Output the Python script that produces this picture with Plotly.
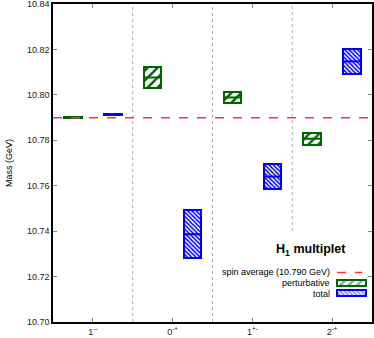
import plotly.graph_objects as go

# ---- data ----
states = ["1<sup>--</sup>", "0<sup>-+</sup>", "1<sup>+-</sup>", "2<sup>-+</sup>"]
spin_average = 10.790
pert_mass = [10.7900, 10.8077, 10.7989, 10.7807]
pert_err = [0.0002, 0.0048, 0.0025, 0.0027]
total_mass = [10.7915, 10.7386, 10.7640, 10.8148]
total_err = [0.0002, 0.0105, 0.0054, 0.0055]
y_ticks = [10.70, 10.72, 10.74, 10.76, 10.78, 10.80, 10.82, 10.84]

GREEN = "#006400"
BLUE = "#0000ff"
FONT = "Liberation Sans, Arial, sans-serif"

idx = list(range(len(states)))
offset = 0.25
bw = 0.22

fig = go.Figure()


def add_series(mass, err, shift, color, shape, size, solidity):
    xs = [i + shift for i in idx]
    fig.add_trace(go.Bar(
        x=xs, y=[2 * e for e in err], base=[m - e for m, e in zip(mass, err)],
        width=bw, showlegend=False, hoverinfo="skip",
        marker=dict(color="white", line=dict(color=color, width=2),
                    pattern=dict(shape=shape, fgcolor=color, bgcolor="white",
                                 size=size, solidity=solidity, fillmode="replace")),
    ))
    lx, ly = [], []
    for x, m in zip(xs, mass):
        lx += [x - bw / 2, x + bw / 2, None]
        ly += [m, m, None]
    fig.add_trace(go.Scatter(x=lx, y=ly, mode="lines", showlegend=False,
                             hoverinfo="skip", line=dict(color=color, width=2)))


add_series(pert_mass, pert_err, -offset, GREEN, "/", 7, 0.35)
add_series(total_mass, total_err, offset, BLUE, "\\", 3, 0.5)

# legend swatches on an auxiliary (hidden) axis pair
fig.add_trace(go.Bar(x=[0.9355], y=[0.019], base=[0.113], width=[0.091],
                     xaxis="x2", yaxis="y2", showlegend=False, hoverinfo="skip",
                     marker=dict(color="white", line=dict(color=GREEN, width=2),
                                 pattern=dict(shape="/", fgcolor=GREEN, bgcolor="white",
                                              size=6, solidity=0.4))))
fig.add_trace(go.Bar(x=[0.9355], y=[0.019], base=[0.081], width=[0.091],
                     xaxis="x2", yaxis="y2", showlegend=False, hoverinfo="skip",
                     marker=dict(color="white", line=dict(color=BLUE, width=2),
                                 pattern=dict(shape="\\", fgcolor=BLUE, bgcolor="white",
                                              size=3, solidity=0.5))))

shapes = []
for sep in [0.5, 1.5]:
    shapes.append(dict(type="line", xref="x", yref="paper", x0=sep, x1=sep, y0=0, y1=1,
                       line=dict(color="#aaaaaa", width=1, dash="dot")))
shapes.append(dict(type="line", xref="x", yref="y", x0=2.5, x1=2.5, y0=10.74, y1=10.84,
                   line=dict(color="#aaaaaa", width=1, dash="dot")))
shapes.append(dict(type="line", xref="paper", yref="y", x0=0, x1=1,
                   y0=spin_average, y1=spin_average,
                   line=dict(color="#ff3333", width=1.5, dash="dash")))
shapes.append(dict(type="line", xref="paper", yref="paper", x0=0.890, x1=0.969,
                   y0=0.1557, y1=0.1557, line=dict(color="#ff3333", width=1.5, dash="dash")))

annotations = [
    dict(text="<b>H<sub>1</sub> multiplet</b>", xref="paper", yref="paper",
         x=0.81, y=0.225, showarrow=False, xanchor="center", yanchor="middle",
         font=dict(size=12.5, color="black", family=FONT)),
    dict(text="spin average (%.3f GeV)" % spin_average, xref="paper", yref="paper",
         x=0.874, y=0.1557, showarrow=False, xanchor="right", yanchor="middle",
         font=dict(size=9, color="black", family=FONT)),
    dict(text="perturbative", xref="paper", yref="paper",
         x=0.874, y=0.1226, showarrow=False, xanchor="right", yanchor="middle",
         font=dict(size=9, color="black", family=FONT)),
    dict(text="total", xref="paper", yref="paper",
         x=0.874, y=0.0896, showarrow=False, xanchor="right", yanchor="middle",
         font=dict(size=9, color="black", family=FONT)),
]

fig.update_layout(
    width=374, height=338,
    margin=dict(l=53, r=2, t=4, b=16),
    paper_bgcolor="white", plot_bgcolor="white",
    barmode="overlay", bargap=0,
    shapes=shapes, annotations=annotations,
    font=dict(family=FONT, size=9, color="black"),
    xaxis=dict(range=[-0.5, 3.5], tickmode="array", tickvals=idx, ticktext=states,
               ticks="inside", ticklen=4, tickcolor="#888888", tickwidth=1,
               showline=True, linecolor="black", linewidth=1.5, mirror="ticks",
               showgrid=False, zeroline=False, tickfont=dict(size=9, family=FONT, color="#222222")),
    yaxis=dict(range=[10.6999, 10.8401], tickmode="array", tickvals=y_ticks,
               ticktext=["%.2f" % t for t in y_ticks],
               ticks="inside", ticklen=4, tickcolor="#888888", tickwidth=1,
               showline=True, linecolor="black", linewidth=1.5, mirror="ticks",
               showgrid=False, zeroline=False, automargin=False,
               ticklabeloverflow="allow",
               tickfont=dict(size=9, family=FONT, color="#222222"),
               title=dict(text="Mass (GeV)", font=dict(size=9, family=FONT), standoff=13)),
    xaxis2=dict(overlaying="x", range=[0, 1], visible=False),
    yaxis2=dict(overlaying="y", range=[0, 1], visible=False),
)

fig.write_html("out.html", config={"displayModeBar": False},
               post_script="document.body.style.margin='0';")
